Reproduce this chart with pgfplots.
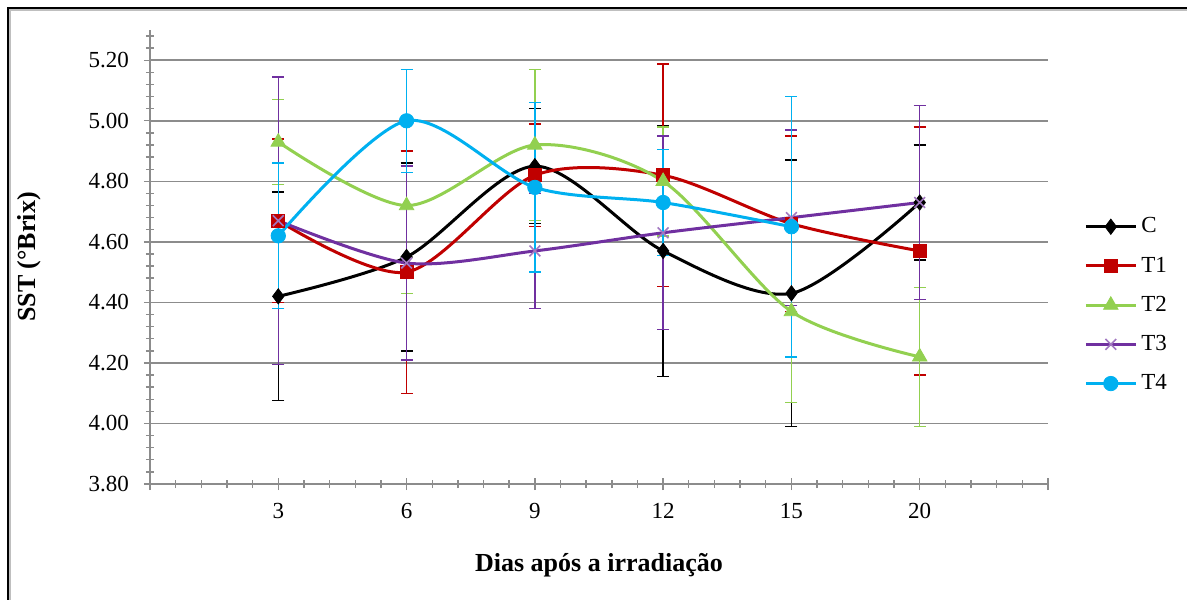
\documentclass[border=0pt]{standalone}
\usepackage{pgfplots}
\pgfplotsset{compat=1.18}
\usepackage{fontspec}
\setmainfont{Liberation Serif}
\definecolor{cC}{HTML}{000000}
\definecolor{cT1}{HTML}{C00000}
\definecolor{cT2}{HTML}{92D050}
\definecolor{cT3}{HTML}{7030A0}
\definecolor{cT4}{HTML}{00B0F0}
\definecolor{gridgray}{HTML}{8C8C8C}
\begin{document}
\begin{tikzpicture}
\useasboundingbox (-75pt,-57.5pt) rectangle (518.5pt,242pt);
\draw[black, line width=1pt] (-71pt,-70pt) -- (-71pt,238pt) -- (530pt,238pt);
\draw[gray!50, line width=1pt] (-69.8pt,-70pt) -- (-69.8pt,236.8pt) -- (530pt,236.8pt);
\begin{axis}[
  scale only axis,
  width=449pt, height=227pt,
  xmin=0, xmax=7, ymin=3.8, ymax=5.3,
  axis x line*=bottom, axis y line*=left,
  axis line style={gridgray, line width=0.9pt},
  xtick={0,1,2,3,4,5,6,7},
  xticklabels={,3,6,9,12,15,20,},
  minor x tick num=4,
  ytick={3.8,4.0,4.2,4.4,4.6,4.8,5.0,5.2},
  minor ytick={3.84,3.88,3.92,3.96,4.04,4.08,4.12,4.16,4.24,4.28,4.32,4.36,4.44,4.48,4.52,4.56,4.64,4.68,4.72,4.76,4.84,4.88,4.92,4.96,5.04,5.08,5.12,5.16,5.24,5.28},
  tick align=center,
  major tick length=6pt, minor tick length=4pt,
  every tick/.style={gridgray, line width=0.7pt},
  ymajorgrids,
  major grid style={gridgray, line width=0.8pt},
  yticklabel style={/pgf/number format/fixed, /pgf/number format/fixed zerofill, /pgf/number format/precision=2, /pgf/number format/assume math mode=true, font=\fontsize{11.5}{13}\selectfont, xshift=-4pt},
  xticklabel style={font=\fontsize{11.5}{13}\selectfont, yshift=-3pt},
  xlabel={Dias após a irradiação},
  ylabel={SST (°Brix)},
  xlabel style={font=\fontsize{13}{15}\selectfont\bfseries, at={(axis description cs:0.5,-0.179)}, anchor=center},
  ylabel style={font=\fontsize{13}{15}\selectfont\bfseries, at={(axis description cs:-0.134,0.5)}, anchor=center},
  legend style={at={(rel axis cs:1.040,0.394)}, anchor=west, draw=none, fill=none,
    font=\fontsize{11.5}{13}\selectfont, row sep=6.5pt, inner sep=0pt},
  legend cell align=left,
  legend image code/.code={\draw[#1, mark repeat=2, mark phase=2] plot coordinates {(0pt,0pt) (12.5pt,0pt) (25pt,0pt)};},
  every axis plot/.append style={line width=1.5pt, smooth, tension=0.5},
  error bars/y dir=both, error bars/y explicit,
  error bars/error bar style={line width=0.7pt, solid},
  error bars/error mark=-,
  error bars/error mark options={rotate=90, mark size=3pt, line width=0.7pt},
]
\addplot[cC, mark=diamond*, mark size=3.8pt, mark options={solid, fill=cC, line width=0.4pt}]
  coordinates {(1,4.42) +- (0,0.345) (2,4.55) +- (0,0.31) (3,4.85) +- (0,0.19) (4,4.57) +- (0,0.415) (5,4.43) +- (0,0.44) (6,4.73) +- (0,0.19)};
\addlegendentry{C}
\addplot[cT1, mark=square*, mark size=3.2pt, mark options={solid, fill=cT1, line width=0.4pt}]
  coordinates {(1,4.67) +- (0,0.27) (2,4.50) +- (0,0.40) (3,4.82) +- (0,0.17) (4,4.82) +- (0,0.367) (5,4.66) +- (0,0.29) (6,4.57) +- (0,0.41)};
\addlegendentry{T1}
\addplot[cT2, mark=triangle*, mark size=4.2pt, mark options={solid, fill=cT2, line width=0.4pt}]
  coordinates {(1,4.93) +- (0,0.14) (2,4.72) +- (0,0.29) (3,4.92) +- (0,0.25) (4,4.80) +- (0,0.18) (5,4.37) +- (0,0.30) (6,4.22) +- (0,0.23)};
\addlegendentry{T2}
\addplot[cT3, mark=x, mark size=3.8pt, mark options={solid, cT3!65, line width=0.8pt}]
  coordinates {(1,4.67) +- (0,0.475) (2,4.53) +- (0,0.32) (3,4.57) +- (0,0.19) (4,4.63) +- (0,0.32) (5,4.68) +- (0,0.29) (6,4.73) +- (0,0.32)};
\addlegendentry{T3}
\addplot[cT4, mark=*, mark size=3.6pt, mark options={solid, fill=cT4, line width=0.4pt}]
  coordinates {(1,4.62) +- (0,0.24) (2,5.00) +- (0,0.17) (3,4.78) +- (0,0.28) (4,4.73) +- (0,0.175) (5,4.65) +- (0,0.43)};
\addlegendentry{T4}
\end{axis}
\end{tikzpicture}
\end{document}
